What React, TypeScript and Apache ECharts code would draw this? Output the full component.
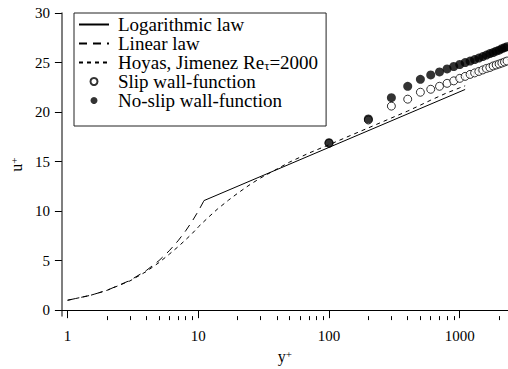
import React, { useEffect, useRef } from "react";
import * as echarts from "echarts";

// ---- data ----
const yPlusLinear = [1, 1.5, 2, 3, 4, 5, 6, 7, 8, 9, 10, 11];
const uPlusLinear = [1, 1.5, 2, 3, 4, 5, 6, 7, 8, 9, 10, 11];

const yPlusLog = [11, 1100];
const uPlusLog = [11.05, 22.28];

const yPlusDNS = [1, 1.5, 2, 3, 4, 5, 6, 7, 8, 9, 10, 12, 14, 17, 20, 25, 30, 40, 50, 70, 100, 150, 200, 300, 400, 500, 600, 700, 800, 900, 1000, 1100];
const uPlusDNS = [1.0, 1.5, 2.0, 2.95, 3.9, 4.8, 5.65, 6.4, 7.1, 7.75, 8.4, 9.4, 10.2, 11.1, 11.8, 12.7, 13.35, 14.25, 14.95, 15.85, 16.7, 17.7, 18.4, 19.4, 20.1, 20.7, 21.2, 21.6, 21.95, 22.2, 22.45, 22.65];

const yPlusWF = [100, 200, 300, 400, 500, 600, 700, 800, 900, 1000, 1100, 1200, 1300, 1400, 1500, 1600, 1700, 1800, 1900, 2000, 2100, 2200, 2300];
const uSlip = [16.85, 19.2, 20.6, 21.3, 22.0, 22.3, 22.6, 22.9, 23.15, 23.4, 23.6, 23.8, 23.95, 24.1, 24.25, 24.4, 24.5, 24.65, 24.75, 24.85, 24.95, 25.05, 25.15];
const uNoSlip = [16.9, 19.3, 21.45, 22.6, 23.3, 23.75, 24.05, 24.35, 24.6, 24.8, 25.0, 25.15, 25.3, 25.45, 25.6, 25.75, 25.9, 26.0, 26.15, 26.25, 26.4, 26.5, 26.6];

const xMajorTicks = [1, 10, 100, 1000];
const xMinorTicks = [2, 3, 4, 5, 6, 7, 8, 9, 20, 30, 40, 50, 60, 70, 80, 90, 200, 300, 400, 500, 600, 700, 800, 900, 2000];
const yTicks = [0, 5, 10, 15, 20, 25, 30];

const names = [
  "Logarithmic law",
  "Linear law",
  "Hoyas, Jimenez Re=2000",
  "Slip wall-function",
  "No-slip wall-function",
];

const zip = (xs: number[], ys: number[]) => xs.map((x, i) => [x, ys[i]]);

const FONT = "Liberation Serif";

export default function App() {
  const ref = useRef<HTMLDivElement>(null);
  useEffect(() => {
    if (!ref.current) return;
    const chart = echarts.init(ref.current, null, { renderer: "svg" });
    const xMin = 0.905;
    const xMax = 2340;
    const hideSym = { color: "rgba(0,0,0,0)", borderWidth: 0, opacity: 0 };
    chart.setOption({
      animation: false,
      backgroundColor: "#fff",
      textStyle: { fontFamily: FONT },
      grid: { left: 61, right: 0, top: 13, bottom: 47, containLabel: false },
      xAxis: [
        {
          type: "log",
          logBase: 10,
          min: xMin,
          max: xMax,
          position: "bottom",
          name: "y{sup|+}",
          nameLocation: "middle",
          nameGap: 25,
          nameTextStyle: {
            fontFamily: FONT,
            fontSize: 16,
            color: "#000",
            rich: { sup: { fontFamily: FONT, fontSize: 11, verticalAlign: "top", lineHeight: 8 } },
          },
          axisLine: { show: true, lineStyle: { color: "#000", width: 1 } },
          axisTick: { show: true, inside: false, length: 8, customValues: xMajorTicks, lineStyle: { color: "#000" } },
          axisLabel: {
            customValues: xMajorTicks,
            formatter: (v: number) => String(Math.round(v)),
            fontFamily: FONT,
            fontSize: 15,
            color: "#000",
            margin: 12,
          },
          splitLine: { show: false },
          minorTick: { show: false },
        },
        {
          type: "log",
          logBase: 10,
          min: xMin,
          max: xMax,
          position: "bottom",
          axisLine: { show: false },
          axisTick: { show: true, inside: false, length: 4, customValues: xMinorTicks, lineStyle: { color: "#000" } },
          axisLabel: { show: false },
          splitLine: { show: false },
        },
      ],
      yAxis: {
        type: "value",
        min: -0.6,
        max: 30,
        name: "u{sup|+}",
        nameLocation: "middle",
        nameRotate: 90,
        nameGap: 33,
        nameTextStyle: {
          fontFamily: FONT,
          fontSize: 16,
          color: "#000",
          rich: { sup: { fontFamily: FONT, fontSize: 11, verticalAlign: "top", lineHeight: 8 } },
        },
        axisLine: { show: true, lineStyle: { color: "#555", width: 1.5 } },
        axisTick: { show: true, inside: false, length: 7, customValues: yTicks, lineStyle: { color: "#000" } },
        axisLabel: { customValues: yTicks, fontFamily: FONT, fontSize: 15, color: "#000", margin: 12 },
        splitLine: { show: false },
      },
      legend: {
        orient: "vertical",
        left: 74,
        top: 13,
        data: [
          { name: names[0], itemStyle: hideSym },
          { name: names[1], itemStyle: hideSym },
          { name: names[2], itemStyle: hideSym },
          { name: names[3] },
          { name: names[4] },
        ],
        borderColor: "#222",
        borderWidth: 1,
        padding: [2, 8, 16, 4],
        itemGap: 0,
        itemWidth: 30,
        itemHeight: 7,
        backgroundColor: "#fff",
        formatter: (n: string) => (n === names[2] ? "Hoyas, Jimenez Re{sub|τ}=2000" : n),
        textStyle: {
          fontFamily: FONT,
          fontSize: 19,
          lineHeight: 18.7,
          color: "#000",
          padding: [0, 0, 0, 4],
          rich: { sub: { fontFamily: FONT, fontSize: 13, verticalAlign: "bottom", lineHeight: 8 } },
        },
      },
      series: [
        {
          name: names[0],
          type: "line",
          data: zip(yPlusLog, uPlusLog),
          symbol: "none",
          lineStyle: { color: "#000", width: 1, type: "solid" },
          itemStyle: { color: "#000" },
        },
        {
          name: names[1],
          type: "line",
          data: zip(yPlusLinear, uPlusLinear),
          symbol: "none",
          lineStyle: { color: "#000", width: 1, type: [8, 6] },
          itemStyle: { color: "#000" },
        },
        {
          name: names[2],
          type: "line",
          data: zip(yPlusDNS, uPlusDNS),
          symbol: "none",
          lineStyle: { color: "#000", width: 1, type: [4, 4] },
          itemStyle: { color: "#000" },
        },
        {
          name: names[3],
          type: "scatter",
          data: zip(yPlusWF, uSlip),
          symbol: "circle",
          symbolSize: 8,
          itemStyle: { color: "#fff", borderColor: "#000", borderWidth: 1 },
        },
        {
          name: names[4],
          type: "scatter",
          data: zip(yPlusWF, uNoSlip),
          symbol: "circle",
          symbolSize: 9,
          itemStyle: { color: "#000", borderColor: "#000", borderWidth: 0 },
        },
      ],
    });
    return () => chart.dispose();
  }, []);
  return (
    <div
      ref={ref}
      style={{ position: "fixed", left: 0, top: 0, width: 508, height: 369 }}
    />
  );
}
